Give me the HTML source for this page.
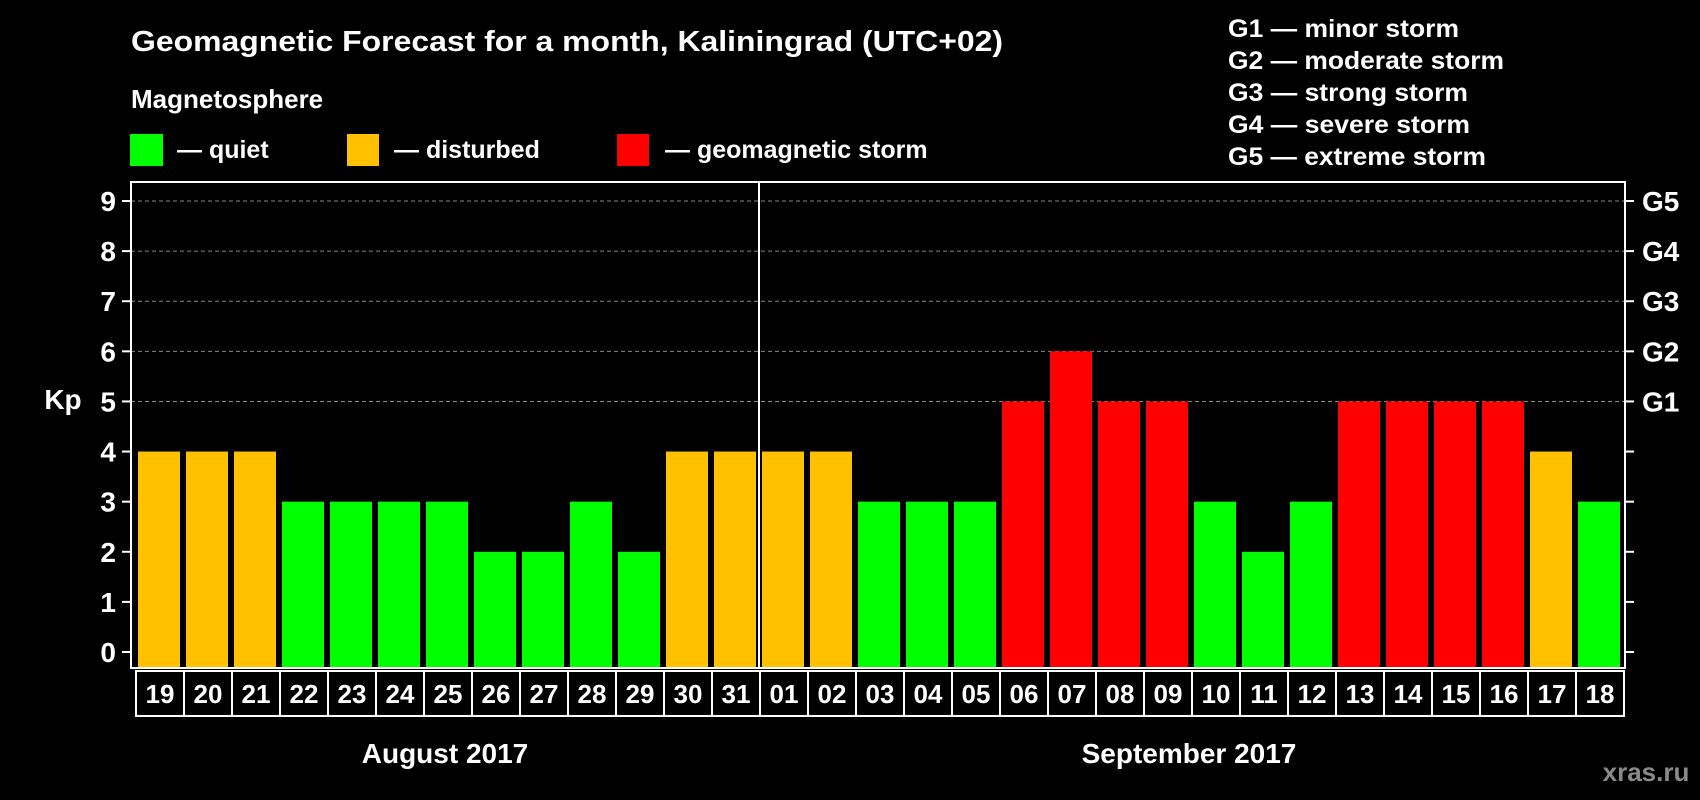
<!DOCTYPE html>
<html><head><meta charset="utf-8"><style>
html,body{margin:0;padding:0;background:#000;width:1700px;height:800px;overflow:hidden}
svg{display:block}
text{font-family:"Liberation Sans",Arial,sans-serif;font-weight:bold;fill:#fff}
</style></head><body>
<svg id="chart" width="1700" height="800" viewBox="0 0 1700 800">
<text x="131" y="51" font-size="29" textLength="872" lengthAdjust="spacingAndGlyphs">Geomagnetic Forecast for a month, Kaliningrad (UTC+02)</text>
<text x="131" y="108" font-size="26">Magnetosphere</text>
<g><rect x="130" y="134" width="33" height="32" fill="#00ff00"/><text x="177" y="158" font-size="25">— quiet</text></g>
<g><rect x="347" y="134" width="32" height="32" fill="#ffc000"/><text x="394" y="158" font-size="25">— disturbed</text></g>
<g><rect x="617" y="134" width="32" height="32" fill="#ff0000"/><text x="665" y="158" font-size="25">— geomagnetic storm</text></g>
<g>
<text x="1228" y="37" font-size="25" textLength="231" lengthAdjust="spacingAndGlyphs">G1 — minor storm</text>
<text x="1228" y="69" font-size="25" textLength="276" lengthAdjust="spacingAndGlyphs">G2 — moderate storm</text>
<text x="1228" y="101" font-size="25" textLength="240" lengthAdjust="spacingAndGlyphs">G3 — strong storm</text>
<text x="1228" y="133" font-size="25" textLength="242" lengthAdjust="spacingAndGlyphs">G4 — severe storm</text>
<text x="1228" y="165" font-size="25" textLength="258" lengthAdjust="spacingAndGlyphs">G5 — extreme storm</text>
</g>
<text x="63" y="409" font-size="28" text-anchor="middle">Kp</text>
<text x="445" y="763" font-size="28" text-anchor="middle">August 2017</text>
<text x="1189" y="763" font-size="28" text-anchor="middle">September 2017</text>
<text x="1646" y="781" font-size="26" text-anchor="middle" style="fill:#8a8a8a">xras.ru</text>
<g id="plot"></g>
</svg>
<script>
const days=["19","20","21","22","23","24","25","26","27","28","29","30","31","01","02","03","04","05","06","07","08","09","10","11","12","13","14","15","16","17","18"];
const kpValues=[4,4,4,3,3,3,3,2,2,3,2,4,4,4,4,3,3,3,5,6,5,5,3,2,3,5,5,5,5,4,3];
const yTicks=[0,1,2,3,4,5,6,7,8,9];
const gLabels=["","","","","","G1","G2","G3","G4","G5"];
const monthSplit=13;
const NS="http://www.w3.org/2000/svg";
const plot=document.getElementById('plot');
const L=131,R=1625,T=182,B=668,Y0=652,Y9=201,X0=135,STEP=48,BW=42;
function yS(v){return Y0-(Y0-Y9)*v/9;}
function xS(i){return X0+i*STEP;}
function mk(tag,attrs,parent){const e=document.createElementNS(NS,tag);for(const k in attrs)e.setAttribute(k,attrs[k]);(parent||plot).appendChild(e);return e;}
function col(v){return v>=5?"#ff0000":(v>=4?"#ffc000":"#00ff00");}
yTicks.forEach((t,i)=>{
  const y=yS(t);
  if(t>=5){const g=mk('line',{x1:L,x2:R,y1:y,y2:y,stroke:'#888','stroke-width':1,'stroke-dasharray':'4,3'});
  
  }
  const a=mk('line',{x1:122,x2:L,y1:y,y2:y,stroke:'#fff','stroke-width':2});
  
  
  const b=mk('line',{x1:R,x2:1634,y1:y,y2:y,stroke:'#fff','stroke-width':2});
  
  
  const tl=mk('text',{x:116,y:y+10,'font-size':28,'text-anchor':'end'});tl.textContent=t;
  
  
  if(gLabels[i]){const gl=mk('text',{x:1642,y:y+10,'font-size':28});gl.textContent=gLabels[i];
  
  }
});
kpValues.forEach((v,i)=>{
  const r=mk('rect',{x:xS(i)+3,y:yS(v),width:BW,height:B-yS(v)-1,fill:col(v)});
  
  
  const box=mk('rect',{x:xS(i)+1,y:671,width:STEP,height:45,fill:'none',stroke:'#fff','stroke-width':2});
  
  
  const t=mk('text',{x:xS(i)+STEP/2+1,y:703,'font-size':26,'text-anchor':'middle'});t.textContent=days[i];
  
  
});
const fr=mk('rect',{x:L,y:T,width:R-L,height:B-T,fill:'none',stroke:'#fff','stroke-width':2});


const dv=mk('line',{x1:xS(monthSplit),x2:xS(monthSplit),y1:T,y2:B,stroke:'#fff','stroke-width':2});


</script>
</body></html>
